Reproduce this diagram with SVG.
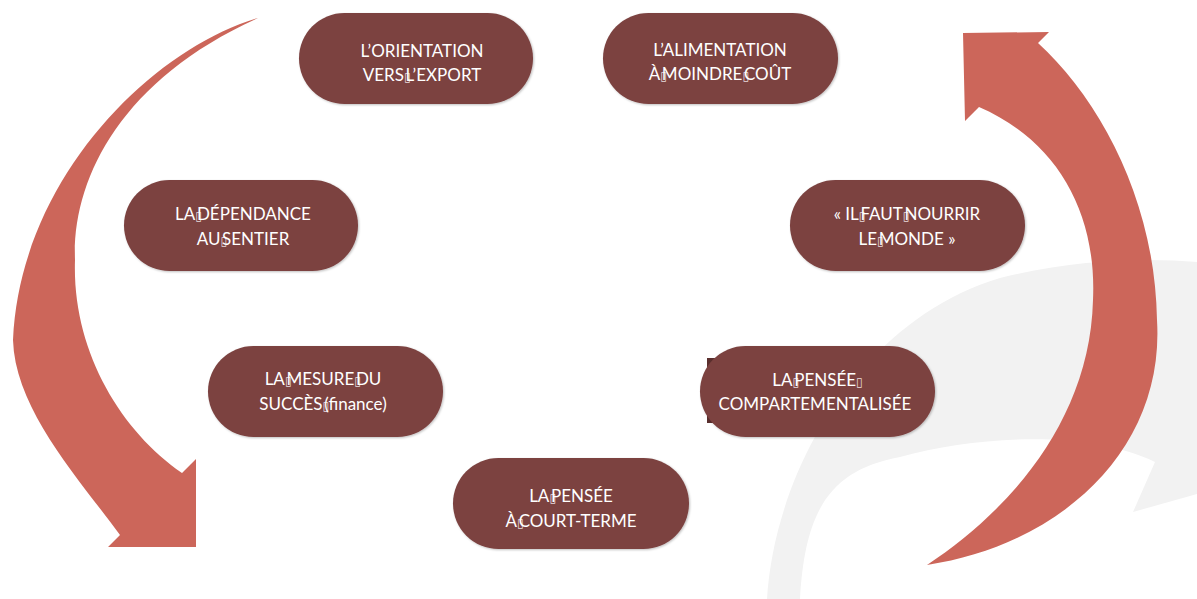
<svg xmlns="http://www.w3.org/2000/svg" width="1197" height="599" viewBox="0 0 1197 599">
  <defs>
    <style>
      .pill { fill: #7B4240; filter: url(#soft); }
      .arrow { fill: #CC665A; }
      .swoosh { fill: #F2F2F2; }
      .lbl { font-family: Lato, "Open Sans", "Liberation Sans", sans-serif; font-size: 17px; fill: #FFFFFF; text-anchor: middle; }
      .g { font-family: "DejaVu Sans", sans-serif; font-size: 12px; fill: #E8DCDC; letter-spacing: -5px; }
    </style>
    <filter id="soft" x="-10%" y="-15%" width="120%" height="135%">
      <feDropShadow dx="1" dy="1" stdDeviation="1.2" flood-color="#000" flood-opacity="0.25"/>
    </filter>
  </defs>

  <!-- pale background swoosh, lower right -->
  <path class="swoosh" d="M767,599 C775,470 860,320 1000,278 C1080,258 1150,258 1197,262 L1197,494 L1133,512 L1155,462 C1090,430 980,435 900,457 C830,470 805,510 800,599 Z"/>

  <g id="connectors">
    <!-- left curved arrow, pointing down -->
    <path class="arrow" d="M258,18 C150,50 20,180 13,340 C15,410 80,480 120,535 L108,547 L196,547 L196,459 L182,473 C120,430 72,350 75,260 C72,180 120,80 258,18 Z"/>
    <!-- right curved arrow, pointing up -->
    <path class="arrow" d="M927,565 C1060,545 1165,450 1157,320 C1155,200 1100,100 1038,43 L1049,32 L963,33 L965,121 L979,107 C1055,140 1097,210 1093,300 C1090,420 1010,510 927,565 Z"/>
  </g>

  <g id="n-export">
    <rect class="pill" x="299" y="13" width="234" height="91" rx="45.5"/>
    <text class="lbl" x="422" y="57">L’ORIENTATION</text>
    <text class="lbl" x="422" y="81">VERS<tspan class="g">▯</tspan>L’EXPORT</text>
  </g>

  <g id="n-alimentation">
    <rect class="pill" x="603" y="13" width="235" height="91" rx="45.5"/>
    <text class="lbl" x="720" y="56">L’ALIMENTATION</text>
    <text class="lbl" x="720" y="80">À<tspan class="g">▯</tspan>MOINDRE<tspan class="g">▯</tspan>COÛT</text>
  </g>

  <g id="n-dependance">
    <rect class="pill" x="124" y="180" width="234" height="91" rx="45.5"/>
    <text class="lbl" x="243" y="220">LA<tspan class="g">▯</tspan>DÉPENDANCE</text>
    <text class="lbl" x="243" y="245">AU<tspan class="g">▯</tspan>SENTIER</text>
  </g>

  <g id="n-nourrir">
    <rect class="pill" x="790" y="180" width="235" height="91" rx="45.5"/>
    <text class="lbl" x="907" y="220">« IL<tspan class="g">▯</tspan>FAUT<tspan class="g">▯</tspan>NOURRIR</text>
    <text class="lbl" x="907" y="245">LE<tspan class="g">▯</tspan>MONDE »</text>
  </g>

  <g id="n-mesure">
    <rect class="pill" x="208" y="346" width="235" height="91" rx="45.5"/>
    <text class="lbl" x="323" y="385">LA<tspan class="g">▯</tspan>MESURE<tspan class="g">▯</tspan>DU</text>
    <text class="lbl" x="323" y="410">SUCCÈS<tspan class="g">▯</tspan>(finance)</text>
  </g>

  <g id="n-compartimentee">
    <rect x="707" y="358" width="30" height="65" fill="#5A2F2E"/>
    <rect class="pill" x="700" y="346" width="235" height="91" rx="45.5"/>
    <text class="lbl" x="815" y="386">LA<tspan class="g">▯</tspan>PENSÉE<tspan class="g">▯</tspan></text>
    <text class="lbl" x="815" y="410">COMPARTEMENTALISÉE</text>
  </g>

  <g id="n-court-terme">
    <rect class="pill" x="453" y="458" width="236" height="91" rx="45.5"/>
    <text class="lbl" x="571" y="502">LA<tspan class="g">▯</tspan>PENSÉE</text>
    <text class="lbl" x="571" y="527">À<tspan class="g">▯</tspan>COURT-TERME</text>
  </g>
</svg>
